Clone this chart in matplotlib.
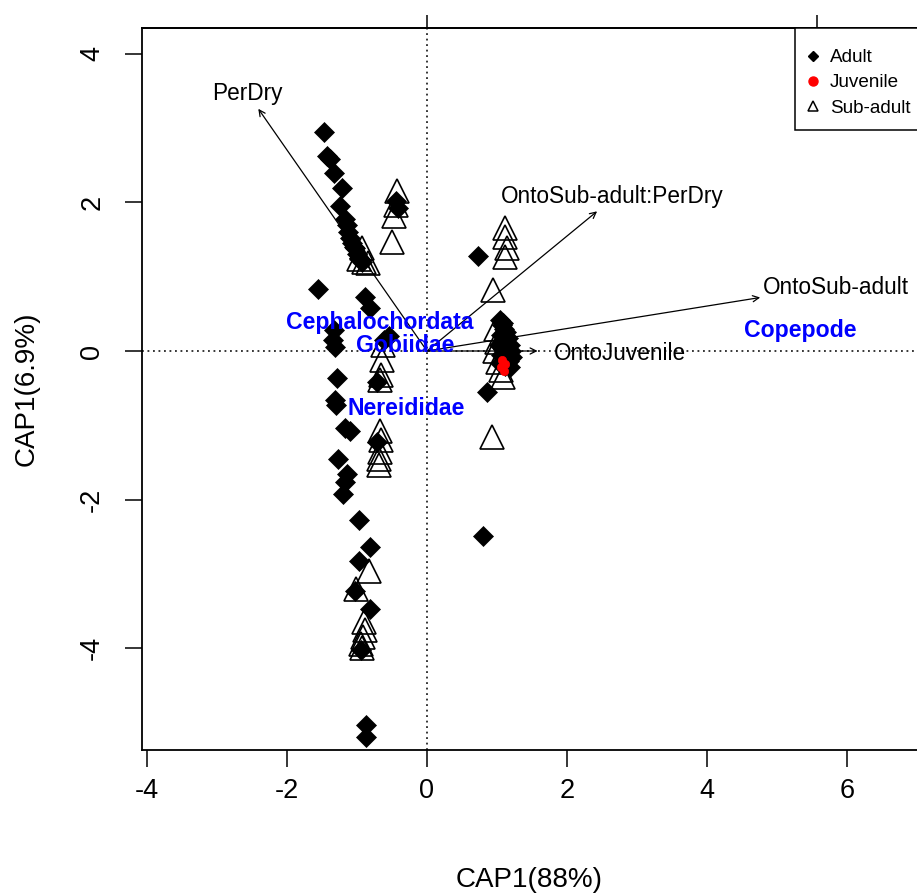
import matplotlib
matplotlib.use("Agg")
import matplotlib.pyplot as plt
from matplotlib.lines import Line2D
from matplotlib.patches import Rectangle

plt.rcParams['font.family'] = ['Liberation Sans', 'DejaVu Sans']

# ---------------- data ----------------
adult_x = [-1.47, -1.43, -1.38, -1.33, -1.21, -1.24, -1.17, -1.15, -1.13, -1.10, -1.07, -1.05,
           -1.03, -1.00, -0.97, -0.93, -0.95, -0.45, -0.42,
           -1.56, -0.89, -0.81, -1.33, -1.34, -1.31, -0.62, -0.55,
           -1.29, -1.31, -1.30, -1.17, -1.10, -1.27, -1.14, -1.17, -1.20, -0.71, -0.71,
           -0.97, -0.81, -0.97, -1.03, -0.81, -0.95, -0.87, -0.87,
           0.73, 0.86, 0.80,
           1.04, 1.07, 1.10, 1.13, 1.06, 1.15, 1.10, 1.18, 1.03, 1.08, 1.20, 1.14,
           1.05, 1.21, 1.10, 1.17, 1.04, 1.12, 1.19, 1.09]
adult_y = [2.95, 2.62, 2.58, 2.40, 2.20, 1.95, 1.77, 1.70, 1.60, 1.52, 1.45, 1.40,
           1.38, 1.30, 1.25, 1.20, 1.22, 2.02, 1.92,
           0.84, 0.73, 0.58, 0.28, 0.15, 0.05, 0.15, 0.20,
           -0.36, -0.66, -0.73, -1.04, -1.08, -1.45, -1.65, -1.76, -1.92, -0.42, -1.23,
           -2.28, -2.64, -2.82, -3.23, -3.47, -4.02, -5.03, -5.19,
           1.28, -0.55, -2.49,
           0.42, 0.35, 0.30, 0.25, 0.22, 0.18, 0.12, 0.08, 0.08, 0.03, 0.00, -0.02,
           -0.05, -0.08, -0.10, -0.14, -0.16, -0.20, -0.22, 0.38]

sub_x = [-0.43, -0.44, -0.47, -0.50,
         -0.93, -0.97, -0.90, -0.85,
         -0.63, -0.65, -0.66, -0.67, -0.67, -0.66, -0.67, -0.68, -0.68,
         -0.83, -1.01, -0.90, -0.88, -0.92, -0.95, -0.93,
         1.12, 1.12, 1.14, 1.12, 0.94,
         0.98, 1.00, 0.97, 1.02, 1.05, 1.08, 0.93]
sub_y = [2.16, 1.96, 1.82, 1.47,
         1.38, 1.24, 1.20, 1.18,
         0.08, -0.12, -0.32, -0.39, -1.07, -1.20, -1.36, -1.45, -1.54,
         -2.96, -3.20, -3.65, -3.75, -3.85, -3.95, -4.00,
         1.66, 1.53, 1.39, 1.26, 0.82,
         0.30, 0.12, 0.00, -0.15, -0.25, -0.35, -1.16]

juv_x = [1.07, 1.12, 1.05, 1.10]
juv_y = [-0.12, -0.18, -0.22, -0.27]

arrow_names = ["PerDry", "OntoSub-adult:PerDry", "OntoSub-adult", "OntoJuvenile"]
arrow_x = [-2.41, 2.43, 4.76, 1.58]
arrow_y = [3.26, 1.88, 0.72, 0.0]
arrow_lab_x = [-2.56, 2.64, 5.84, 2.76]
arrow_lab_y = [3.46, 2.08, 0.85, -0.04]

species_names = ["Cephalochordata", "Gobiidae", "Nereididae", "Copepode"]
species_x = [-0.67, -0.31, -0.30, 5.33]
species_y = [0.38, 0.07, -0.77, 0.28]

xticks = [-4, -2, 0, 2, 4, 6]
yticks = [-4, -2, 0, 2, 4]
top_ticks = [0, 5.57]

# ---------------- figure ----------------
W, H = 917, 896
fig = plt.figure(figsize=(W / 100, H / 100), dpi=100)
left_px, right_px, top_px, bot_px = 142, 919, 28, 750
ax = fig.add_axes([left_px / W, (H - bot_px) / H, (right_px - left_px) / W, (bot_px - top_px) / H])

def axx(px):
    return (px - left_px) / (right_px - left_px)

def axy(py):
    return (bot_px - py) / (bot_px - top_px)

x0, xs = 427, 70.0
y0, ys = 351, 74.3
ax.set_xlim((left_px - x0) / xs, (right_px - x0) / xs)
ax.set_ylim((y0 - bot_px) / ys, (y0 - top_px) / ys)

ax.axhline(0, color='black', ls=(0, (1.2, 2.4)), lw=1.1, zorder=1)
ax.axvline(0, color='black', ls=(0, (1.2, 2.4)), lw=1.1, zorder=1)

ax.plot(adult_x, adult_y, ls='none', marker='D', ms=10, mfc='black', mec='black', mew=0.5, zorder=3)
ax.plot(sub_x, sub_y, ls='none', marker='^', ms=17, mfc='none', mec='black', mew=1.2, zorder=4)
ax.plot(juv_x, juv_y, ls='none', marker='o', ms=6, mfc='red', mec='red', mew=0.5, zorder=5)

for name, ax_, ay_, lx, ly in zip(arrow_names, arrow_x, arrow_y, arrow_lab_x, arrow_lab_y):
    ax.annotate('', xy=(ax_, ay_), xytext=(0, 0),
                arrowprops=dict(arrowstyle='->', lw=0.9, color='black',
                                shrinkA=0, shrinkB=0, mutation_scale=11), zorder=6)
    ax.text(lx, ly, name, ha='center', va='center', fontsize=16.3, color='black', zorder=7)

for name, sx, sy in zip(species_names, species_x, species_y):
    ax.text(sx, sy, name, ha='center', va='center', fontsize=16.6, fontweight='bold',
            color='#0000ff', zorder=8)

for sp in ['left', 'bottom', 'top', 'right']:
    ax.spines[sp].set_linewidth(1.3)
ax.set_xticks(xticks)
ax.set_yticks(yticks)
ax.set_xticklabels([str(t) for t in xticks])
ax.set_yticklabels([str(t) for t in yticks], rotation=90, va='center')
ax.tick_params(axis='both', direction='out', length=12.5, width=1.1, labelsize=19.5)
ax.tick_params(axis='x', pad=8)
ax.tick_params(axis='y', pad=14)

sec = ax.secondary_xaxis('top')
sec.set_xticks(top_ticks)
sec.set_xticklabels(['', ''])
sec.tick_params(direction='out', length=9.5, width=1.1)
sec.spines['top'].set_linewidth(1.3)

ax.set_xlabel('CAP1(88%)', fontsize=20)
ax.set_ylabel('CAP1(6.9%)', fontsize=20)
ax.xaxis.set_label_coords(axx((left_px + 917) / 2), axy(880))
ax.yaxis.set_label_coords(axx(27), 0.5)
ax.xaxis.label.set_va('center')
ax.yaxis.label.set_va('center')

# legend box (drawn as a frame patch) and entries
ax.add_patch(Rectangle((axx(795), axy(130)), axx(940) - axx(795), 1 - axy(130),
                       transform=ax.transAxes, fill=True, facecolor='white',
                       edgecolor='black', lw=1.1, clip_on=False, zorder=9))
handles = [Line2D([], [], ls='none', marker='D', ms=5.5, mfc='black', mec='black'),
           Line2D([], [], ls='none', marker='o', ms=6.5, mfc='red', mec='red'),
           Line2D([], [], ls='none', marker='^', ms=7.5, mfc='none', mec='black', mew=1.1)]
leg = ax.legend(handles, ['Adult', 'Juvenile', 'Sub-adult'], loc='upper left',
                bbox_to_anchor=(axx(803.5), axy(49)),
                borderaxespad=0, borderpad=0, handlelength=1.0, handletextpad=0.4,
                labelspacing=0.42, fontsize=13.6, frameon=False)
leg.set_zorder(10)

fig.savefig('out.png', dpi=100)
